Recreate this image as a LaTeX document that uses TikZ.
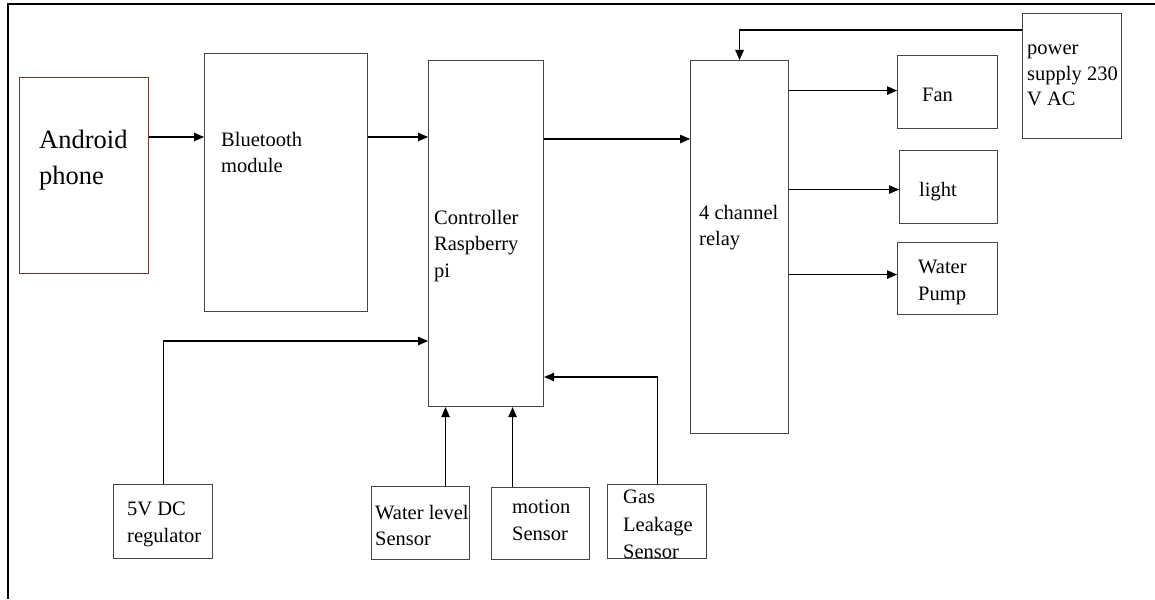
\documentclass[tikz,border=0pt]{standalone}
\usepackage{fontspec}
\setmainfont{Liberation Serif}
\usetikzlibrary{arrows.meta}
\definecolor{boxgray}{RGB}{70,70,70}
\definecolor{phonebrown}{RGB}{120,55,45}
\tikzset{
  blk/.style={rectangle,draw=boxgray,line width=1.1pt,inner sep=0pt,anchor=north west},
  lbl/.style={anchor=north west,inner sep=0pt,align=left,font=\fontsize{20.5}{26.5}\selectfont},
  arr/.style={-{Triangle[length=10pt,width=8.5pt]},line width=1.1pt},
}
\begin{document}
\begin{tikzpicture}[x=1pt,y=-1pt]
\useasboundingbox (0,0) rectangle (1155,599);
\draw[line width=1.8pt] (1155,4) -- (8,4) -- (8,599);

\begin{scope}[every node/.style={blk}]
	\node[draw=phonebrown,minimum width=129,minimum height=196] (phone) at (19,77) {};
	\node[minimum width=163,minimum height=258] (bt) at (204,53) {};
	\node[minimum width=115,minimum height=346] (ctrl) at (428,60) {};
	\node[minimum width=98,minimum height=373] (relay) at (690,60) {};
	\node[minimum width=99,minimum height=125] (pwr) at (1022,13) {};
	\node[minimum width=100,minimum height=73] (fan) at (897,55) {};
	\node[minimum width=98,minimum height=73] (light) at (899,150) {};
	\node[minimum width=100,minimum height=72] (pump) at (897,242) {};
	\node[minimum width=99,minimum height=74] (reg) at (113,484) {};
	\node[minimum width=98,minimum height=73] (wl) at (371,486) {};
	\node[minimum width=98,minimum height=72] (mot) at (491,487) {};
	\node[minimum width=99,minimum height=74] (gas) at (607,484) {};
\end{scope}

\begin{scope}[every node/.style={lbl}]
	\node[font=\fontsize{26.5}{36}\selectfont] (phonetxt) at (39,130) {Android\\phone};
	\node (bttxt) at (221,132) {Bluetooth\\module};
	\node (ctrltxt) at (434,210) {Controller\\Raspberry\\pi};
	\node (relaytxt) at (699,205) {4 channel\\relay};
	\node[font=\fontsize{20.5}{25.5}\selectfont] (pwrtxt) at (1027,45) {power\\supply 230\\V AC};
	\node (fantxt) at (922,88) {Fan};
	\node (lighttxt) at (919,182) {light};
	\node (pumptxt) at (918,260) {Water\\Pump};
	\node (regtxt) at (127,502) {5V DC\\regulator};
	\node (wltxt) at (375,505) {Water level\\Sensor};
	\node (mottxt) at (512,500) {motion\\Sensor};
	\node[font=\fontsize{20.5}{27.5}\selectfont] (gastxt) at (623,490) {Gas\\Leakage\\Sensor};
\end{scope}

\coordinate (rowA) at (0,137);
\coordinate (rowB) at (0,139);
\coordinate (rowP) at (0,30);
\coordinate (rowR) at (0,341);
\coordinate (rowG) at (0,377);

\begin{scope}[arr]
	\draw (phone.east |- rowA) -- (bt.west |- rowA);
	\draw (bt.east |- rowA) -- (ctrl.west |- rowA);
	\draw (ctrl.east |- rowB) -- (relay.west |- rowB);
	\draw (pwr.west |- rowP) -| (relay.north);
	\draw ([yshift=1.5pt]relay.east |- fan.west) -- ([yshift=1.5pt]fan.west);
	\draw ([yshift=-2.5pt]relay.east |- light.west) -- ([yshift=-2.5pt]light.west);
	\draw ([yshift=4pt]relay.east |- pump.west) -- ([yshift=4pt]pump.west);
	\draw (reg.north) |- (ctrl.west |- rowR);
	\draw ([xshift=25pt]wl.north) -- ([xshift=25pt]wl.north |- ctrl.south);
	\draw ([xshift=-28pt]mot.north) -- ([xshift=-28pt]mot.north |- ctrl.south);
	\draw (gas.north) |- (ctrl.east |- rowG);
\end{scope}
\end{tikzpicture}
\end{document}
